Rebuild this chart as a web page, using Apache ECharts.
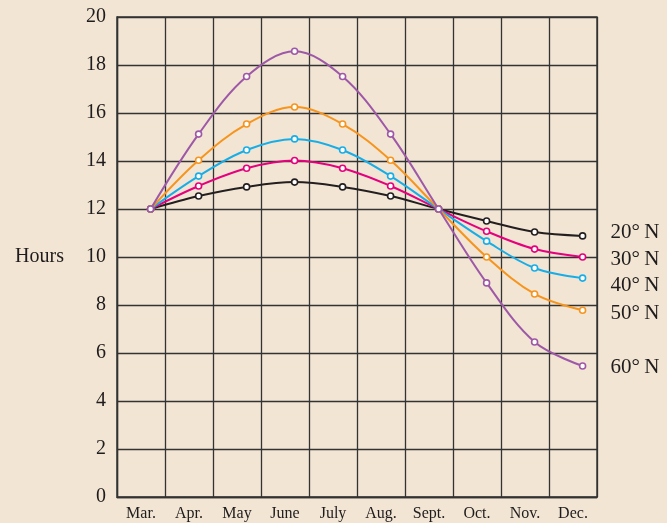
<!DOCTYPE html>
<html>
<head>
<meta charset="utf-8">
<script src="https://cdn.jsdelivr.net/npm/echarts@6/dist/echarts.min.js"></script>
<style>
  html, body { margin: 0; padding: 0; background: #f2e5d3; }
  #chart { width: 667px; height: 523px; }
</style>
</head>
<body>
<div id="chart"></div>
<script>
// Month labels along the bottom axis
const months = ['Mar.', 'Apr.', 'May', 'June', 'July', 'Aug.', 'Sept.', 'Oct.', 'Nov.', 'Dec.'];
// Each reading falls on the 21st, about 0.7 of the way through its month
const dayPos = [0.7, 1.7, 2.7, 3.7, 4.7, 5.7, 6.7, 7.7, 8.7, 9.7];

// Hours of daylight by latitude
const lat20 = [12, 12.54, 12.92, 13.12, 12.92, 12.54, 12, 11.5, 11.04, 10.88];
const lat30 = [12, 12.96, 13.7, 14.02, 13.7, 12.96, 12, 11.07, 10.33, 10.0];
const lat40 = [12, 13.37, 14.46, 14.92, 14.46, 13.37, 12, 10.66, 9.54, 9.12];
const lat50 = [12, 14.03, 15.54, 16.25, 15.54, 14.03, 12, 10.0, 8.46, 7.78];
const lat60 = [12, 15.12, 17.52, 18.57, 17.52, 15.12, 12, 8.92, 6.46, 5.46];

const yTicks = [0, 2, 4, 6, 8, 10, 12, 14, 16, 18, 20];

const font = '"Liberation Serif", "Times New Roman", serif';
const ink = '#1f1c1d';

function pairs(vals) {
  return vals.map((v, i) => [dayPos[i], v]);
}

function makeSeries(name, vals, color, labelOffset) {
  return {
    name: name,
    type: 'line',
    xAxisIndex: 1,
    data: pairs(vals),
    smooth: 0.35,
    symbol: 'circle',
    symbolSize: 6,
    showAllSymbol: true,
    lineStyle: { color: color, width: 2 },
    itemStyle: { color: '#ffffff', borderColor: color, borderWidth: 1.6 },
    endLabel: {
      show: true,
      formatter: name,
      fontFamily: font,
      fontSize: 21,
      color: ink,
      offset: labelOffset
    },
    emphasis: { disabled: true },
    z: 3
  };
}

const chart = echarts.init(document.getElementById('chart'));
chart.setOption({
  backgroundColor: '#f2e5d3',
  animation: false,
  grid: { left: 117, right: 70, top: 17, bottom: 26 },
  xAxis: [
    {
      type: 'category',
      data: months,
      boundaryGap: true,
      axisLine: { show: true, lineStyle: { color: '#333333', width: 1.4 } },
      axisTick: { show: false },
      axisLabel: { fontFamily: font, fontSize: 16, color: ink, margin: 9 },
      splitLine: { show: true, lineStyle: { color: '#333333', width: 1.3 } }
    },
    {
      type: 'value',
      min: 0,
      max: 10,
      show: false
    }
  ],
  yAxis: {
    type: 'value',
    min: yTicks[0],
    max: yTicks[yTicks.length - 1],
    interval: 2,
    name: 'Hours',
    nameLocation: 'middle',
    nameRotate: 0,
    nameGap: 53,
    nameTextStyle: { fontFamily: font, fontSize: 20, color: ink, align: 'right' },
    axisLine: { show: true, lineStyle: { color: '#333333', width: 1.4 } },
    axisTick: { show: false },
    axisLabel: { fontFamily: font, fontSize: 20, color: ink, margin: 11 },
    splitLine: { show: true, lineStyle: { color: '#333333', width: 1.3 } }
  },
  graphic: [
    // closing edges of the plot frame
    {
      type: 'rect',
      shape: { x: 117, y: 17, width: 480, height: 480 },
      style: { fill: 'none', stroke: '#333333', lineWidth: 1.4 },
      silent: true,
      z: 1
    }
  ],
  series: [
    makeSeries('20°\u2009N', lat20, '#231f20', [20, -3]),
    makeSeries('30°\u2009N', lat30, '#e5007d', [20, 2]),
    makeSeries('40°\u2009N', lat40, '#17aee8', [20, 7]),
    makeSeries('50°\u2009N', lat50, '#f7941d', [20, 3]),
    makeSeries('60°\u2009N', lat60, '#9e58a8', [20, 2])
  ]
});
</script>
</body>
</html>
